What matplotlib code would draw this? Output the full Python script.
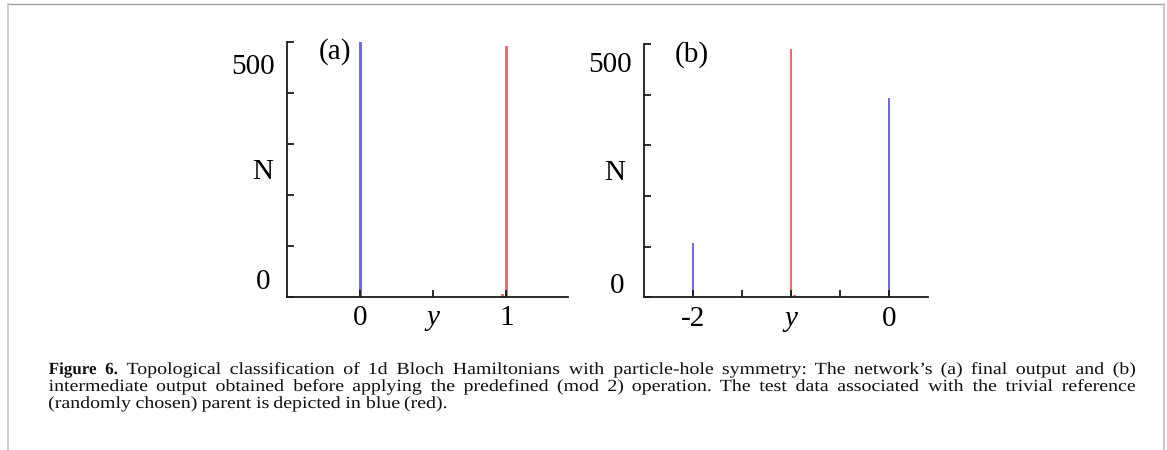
import matplotlib
matplotlib.use("Agg")
from matplotlib import pyplot as plt
from matplotlib.lines import Line2D
from matplotlib.textpath import TextPath
from matplotlib.patches import PathPatch
from matplotlib.font_manager import FontProperties
from matplotlib.transforms import Affine2D

plt.rcParams['font.family'] = ['Liberation Serif', 'DejaVu Serif']

# panel (a): final output
a_blue_pos = [0.005]
a_blue_cnt = [500]
a_red_pos = [0.972, 1.0]
a_red_cnt = [5, 492]
a_ticks = [0, 0.5, 1]
a_ticklabels = ['0', 'y', '1']

# panel (b): intermediate output
b_blue_pos = [-2.0, 0.0]
b_blue_cnt = [107, 393]
b_red_pos = [-1.0, -0.965]
b_red_cnt = [490, 5]
b_ticks = [-2, -1.5, -1, -0.5, 0]
b_ticklabels = ['-2', '', 'y', '', '0']

caption_lines = [
    "Figure 6. Topological classification of 1d Bloch Hamiltonians with particle-hole symmetry: The network\u2019s (a) final output and (b)",
    "intermediate output obtained before applying the predefined (mod 2) operation. The test data associated with the trivial reference",
    "(randomly chosen) parent is depicted in blue (red).",
]

BLUE = '#6a6af7'
RED = '#f76a6a'
INK = '#1a1a1a'
W, H = 1167, 450

fig = plt.figure(figsize=(W / 100, H / 100), dpi=100)


def make_panel(rect, xlim, ticks, ticklabels, blue_pos, blue_cnt, red_pos, red_cnt,
               bw, tag, lab_x, n_x, zero_x, lab_y, zero_y):
    ax = fig.add_axes(rect)
    ax.bar(blue_pos, blue_cnt, width=bw, color=BLUE, linewidth=0)
    ax.bar(red_pos, red_cnt, width=bw, color=RED, linewidth=0)
    ax.set_xlim(*xlim)
    ax.set_ylim(0, 500)
    for s in ['top', 'right']:
        ax.spines[s].set_visible(False)
    for s in ['left', 'bottom']:
        ax.spines[s].set_linewidth(1.3)
        ax.spines[s].set_color(INK)
    ax.set_yticks(range(0, 501, 100))
    ax.set_yticklabels([])
    ax.set_xticks(ticks)
    ax.set_xticklabels(ticklabels, fontsize=21)
    for t in ax.get_xticklabels():
        if t.get_text() == 'y':
            t.set_fontstyle('italic')
    ax.tick_params(direction='in', length=5, width=1.3, color=INK, pad=6)
    tr = ax.get_yaxis_transform()
    ax.text(lab_x, lab_y, '500', transform=tr, ha='right', va='center', fontsize=21)
    ax.text(n_x, 245, 'N', transform=tr, ha='center', va='center', fontsize=21)
    ax.text(zero_x, zero_y, '0', transform=tr, ha='center', va='center', fontsize=21)
    ax.text(0.17, 0.96, tag, transform=ax.transAxes, ha='center', va='center', fontsize=21)
    return ax


make_panel([286.7 / W, (450 - 297) / H, 281.3 / W, 255.3 / H], (-0.5, 1.42),
           a_ticks, a_ticklabels, a_blue_pos, a_blue_cnt, a_red_pos, a_red_cnt,
           0.017, '(a)', -0.042, -0.084, -0.084, 451, 30)
make_panel([644 / W, (450 - 297.3) / H, 284 / W, 253.3 / H], (-2.505, 0.4),
           b_ticks, b_ticklabels, b_blue_pos, b_blue_cnt, b_red_pos, b_red_cnt,
           0.022, '(b)', -0.042, -0.103, -0.093, 458, 22)

# page borders
fig.add_artist(Line2D([8 / W, 1163 / W], [1 - 4 / H, 1 - 4 / H], color='#999999', lw=0.9))
fig.add_artist(Line2D([8 / W, 8 / W], [0, 1 - 4 / H], color='#cccccc', lw=1.4))
fig.add_artist(Line2D([1164 / W, 1164 / W], [0, 1 - 4 / H], color='#cccccc', lw=1.6))

# caption drawn word by word as paths, first two lines justified
fp_reg = FontProperties(family='Liberation Serif')
fp_bold = FontProperties(family='Liberation Serif', weight='bold')
em = 17.0
x_left, x_right = 49, 1135
baselines = [374, 391, 408]
for li, line in enumerate(caption_lines):
    words = line.split(' ')
    paths, scales = [], []
    for wi, w in enumerate(words):
        bold = (li == 0 and wi < 2)
        paths.append(TextPath((0, 0), w, size=em, prop=fp_bold if bold else fp_reg))
        scales.append(1.0 if bold else 1.17)
    exts = [p.get_extents() for p in paths]
    widths = [e.width * s for e, s in zip(exts, scales)]
    if li < 2:
        gap = (x_right - x_left - sum(widths)) / (len(words) - 1)
    else:
        gap = 0.27 * em * 1.17
    x = x_left
    for p, e, w, s in zip(paths, exts, widths, scales):
        tf = Affine2D().scale(s, 1).translate(x - e.x0 * s, H - baselines[li])
        fig.add_artist(PathPatch(p, transform=tf, facecolor='#111111', lw=0))
        x += w + gap

fig.savefig('out.png', dpi=100)
